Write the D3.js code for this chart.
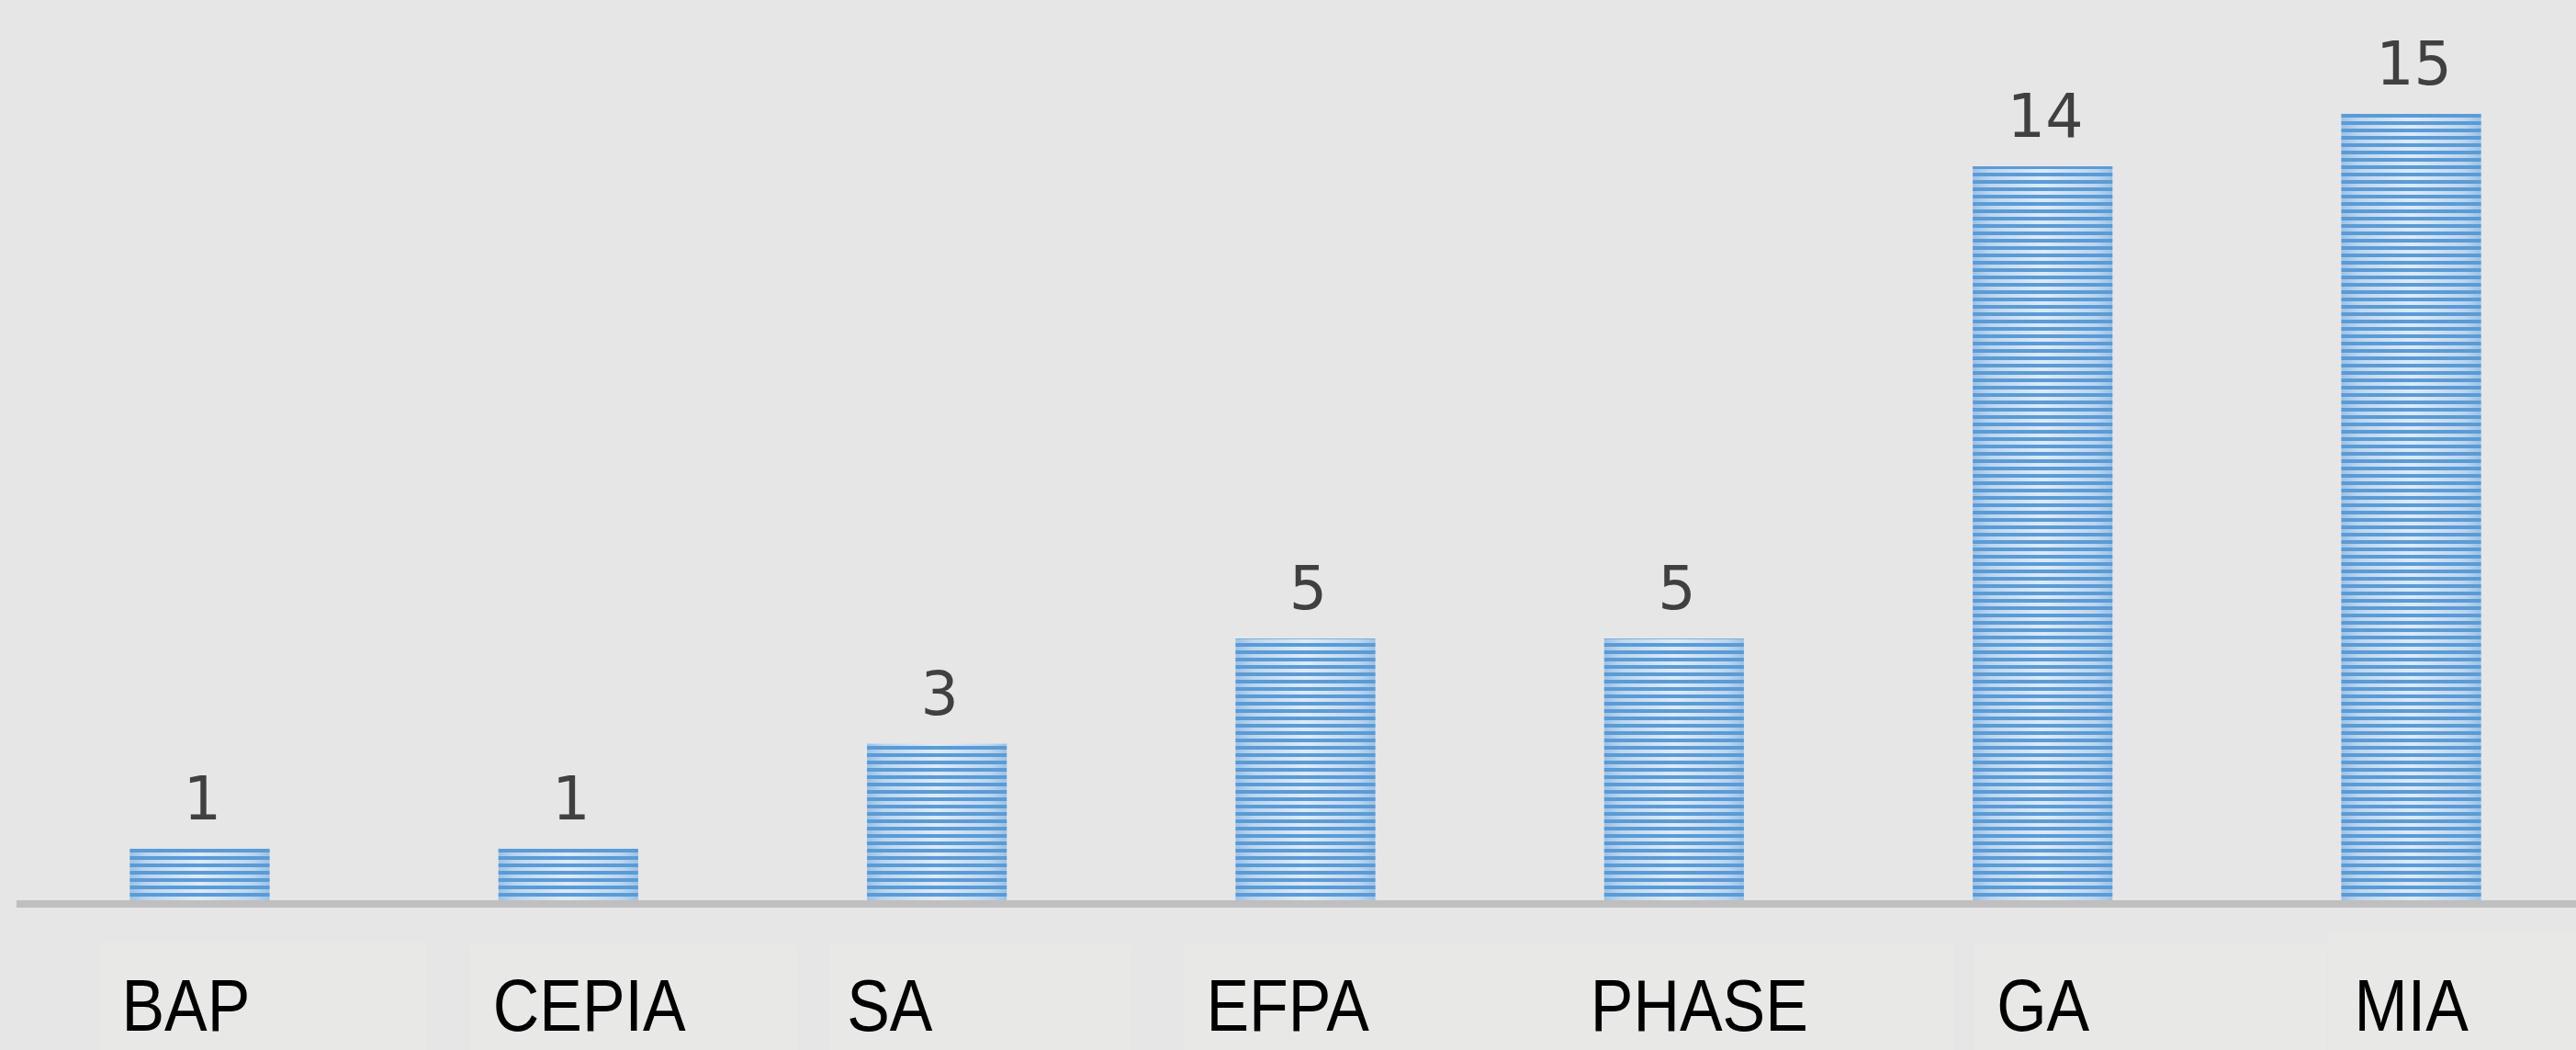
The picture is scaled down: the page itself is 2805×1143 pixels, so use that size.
<!DOCTYPE html>
<html>
<head>
<meta charset="utf-8">
<script src="https://cdn.jsdelivr.net/npm/d3@7/dist/d3.min.js"></script>
<style>
  html, body { margin: 0; padding: 0; background: #e6e6e6; }
  svg { display: block; }
</style>
</head>
<body>
<svg id="chart" width="2805" height="1143"></svg>
<script>
// ---- data ----
const categories = ["BAP", "CEPIA", "SA", "EFPA", "PHASE", "GA", "MIA"];
const values = [1, 1, 3, 5, 5, 14, 15];

// ---- layout constants (not data) ----
const W = 2805, H = 1143;
const baseY = 981;          // y pixel of value 0
const unitPx = 57.14;       // pixels per unit
const labelNudge = [-85, -82, -98, -108, -91, -50, -62]; // category label x offset from bar centre
const boxNudge   = [-109, -107, -117, -132, -112, -74, -90];
const boxWidth   = [356, 356, 328, 420, 417, 384, 300];
const boxTop     = [1026, 1029, 1028, 1028, 1029, 1028, 1014];

const svg = d3.select("#chart");
svg.append("rect").attr("width", W).attr("height", H).attr("fill", "#e6e6e6");

const defs = svg.append("defs");
const grad = defs.append("linearGradient").attr("id", "barGrad")
  .attr("x1", "0").attr("x2", "1").attr("y1", "0").attr("y2", "0");
grad.append("stop").attr("offset", "0").attr("stop-color", "#9cc2e6");
grad.append("stop").attr("offset", "0.12").attr("stop-color", "#bcd6ef");
grad.append("stop").attr("offset", "0.5").attr("stop-color", "#deebf7");
grad.append("stop").attr("offset", "0.88").attr("stop-color", "#bcd6ef");
grad.append("stop").attr("offset", "1").attr("stop-color", "#9cc2e6");

const pat = defs.append("pattern").attr("id", "stripes")
  .attr("patternUnits", "userSpaceOnUse")
  .attr("x", 0).attr("y", 4).attr("width", 16).attr("height", 8);
pat.append("rect").attr("x", 0).attr("y", 0).attr("width", 16).attr("height", 4).attr("fill", "#5b9bd5");

const x = d3.scaleBand().domain(categories).range([17, 2826])
  .paddingInner(0.621).paddingOuter(0.31);
const y = d3.scaleLinear().domain([0, 15]).range([baseY, baseY - 15 * unitPx]);

const data = categories.map((c, i) => ({ c, v: values[i], i }));

// label background boxes
svg.append("g").selectAll("rect").data(data).join("rect")
  .attr("x", d => x(d.c) + x.bandwidth() / 2 + boxNudge[d.i])
  .attr("y", d => boxTop[d.i])
  .attr("width", d => boxWidth[d.i])
  .attr("height", d => H - boxTop[d.i])
  .attr("fill", "#e8e8e7");

// bars
const bars = svg.append("g");
bars.selectAll("rect.base").data(data).join("rect").attr("class", "base")
  .attr("x", d => x(d.c)).attr("y", d => y(d.v))
  .attr("width", x.bandwidth()).attr("height", d => y(0) - y(d.v))
  .attr("fill", "url(#barGrad)");
bars.selectAll("rect.str").data(data).join("rect").attr("class", "str")
  .attr("x", d => x(d.c)).attr("y", d => y(d.v))
  .attr("width", x.bandwidth()).attr("height", d => y(0) - y(d.v))
  .attr("fill", "url(#stripes)");

// axis line
svg.append("line").attr("x1", 18).attr("x2", W).attr("y1", 984).attr("y2", 984)
  .attr("stroke", "#bfbfbf").attr("stroke-width", 8);

// value labels
svg.append("g").selectAll("text").data(data).join("text")
  .attr("x", d => x(d.c) + x.bandwidth() / 2 + 3)
  .attr("y", d => y(d.v) - 32)
  .attr("text-anchor", "middle")
  .attr("font-family", "DejaVu Sans")
  .attr("font-size", 65)
  .attr("fill", "#404040")
  .text(d => d.v);

// category labels (slightly condensed like the original)
svg.append("g").selectAll("text").data(data).join("text")
  .attr("transform", d => `translate(${x(d.c) + x.bandwidth() / 2 + labelNudge[d.i]},1122) scale(0.885,1)`)
  .attr("font-family", "Liberation Sans, Arial, sans-serif")
  .attr("font-size", 79)
  .attr("fill", "#000000")
  .text(d => d.c);
</script>
</body>
</html>
